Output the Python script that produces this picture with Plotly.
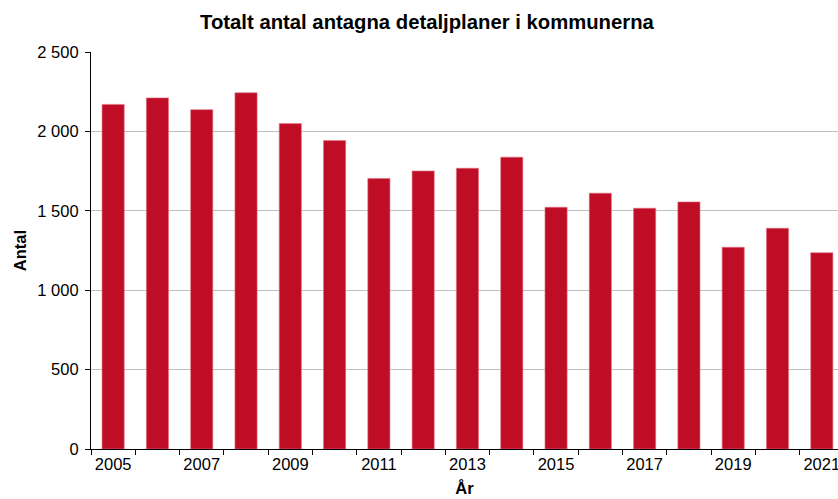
import plotly.graph_objects as go

years = list(range(2005, 2022))
antal = [2170, 2211, 2137, 2243, 2049, 1942, 1704, 1751, 1768, 1838,
         1522, 1611, 1516, 1556, 1270, 1390, 1236]
tick_years = [2005, 2007, 2009, 2011, 2013, 2015, 2017, 2019, 2021]
y_ticks = [0, 500, 1000, 1500, 2000, 2500]

font_family = "Liberation Sans, Arial, sans-serif"

fig = go.Figure(go.Bar(
    x=years, y=antal, width=0.5,
    marker=dict(color="#C00D26", line=dict(color="#E07080", width=0.6)),
))

fig.update_layout(
    width=838, height=499,
    margin=dict(l=91, r=0, t=52, b=50, autoexpand=False),
    paper_bgcolor="white", plot_bgcolor="white",
    separators=", ",
    showlegend=False,
    font=dict(family=font_family, size=16, color="#000000"),
    title=dict(text="<b>Totalt antal antagna detaljplaner i kommunerna</b>",
               x=0.5095, xanchor="center", xref="container",
               y=0.956, yanchor="middle", yref="container",
               font=dict(size=20.3, family=font_family, color="#000000")),
)

fig.update_xaxes(
    range=[2004.5, 2021.366],
    automargin=False,
    tickvals=tick_years, ticktext=[str(t) for t in tick_years],
    ticklabeloverflow="allow",
    ticks="", showgrid=False, zeroline=False,
    showline=True, linecolor="#000000", linewidth=1.2,
    minor=dict(ticks="outside", tick0=2004.5, dtick=1, ticklen=5,
               tickcolor="#000000", showgrid=False),
    tickfont=dict(size=16.5),
    title=dict(text="<b>År</b>", font=dict(size=16.5), standoff=10),
)

fig.update_yaxes(
    range=[0, 2500],
    automargin=False,
    tickvals=y_ticks, tickformat=",d",
    ticks="outside", ticklen=5, tickcolor="#000000",
    ticklabelstandoff=3,
    showgrid=True, gridcolor="#C0C0C0", gridwidth=1,
    zeroline=False,
    showline=True, linecolor="#000000", linewidth=1.2,
    tickfont=dict(size=16.5),
    title=dict(text="<b>Antal</b>", font=dict(size=16.5), standoff=6),
)

fig.write_html(
    "out.html",
    config={"displayModeBar": False},
    post_script="document.body.style.margin='0';document.body.style.overflow='hidden';",
)
